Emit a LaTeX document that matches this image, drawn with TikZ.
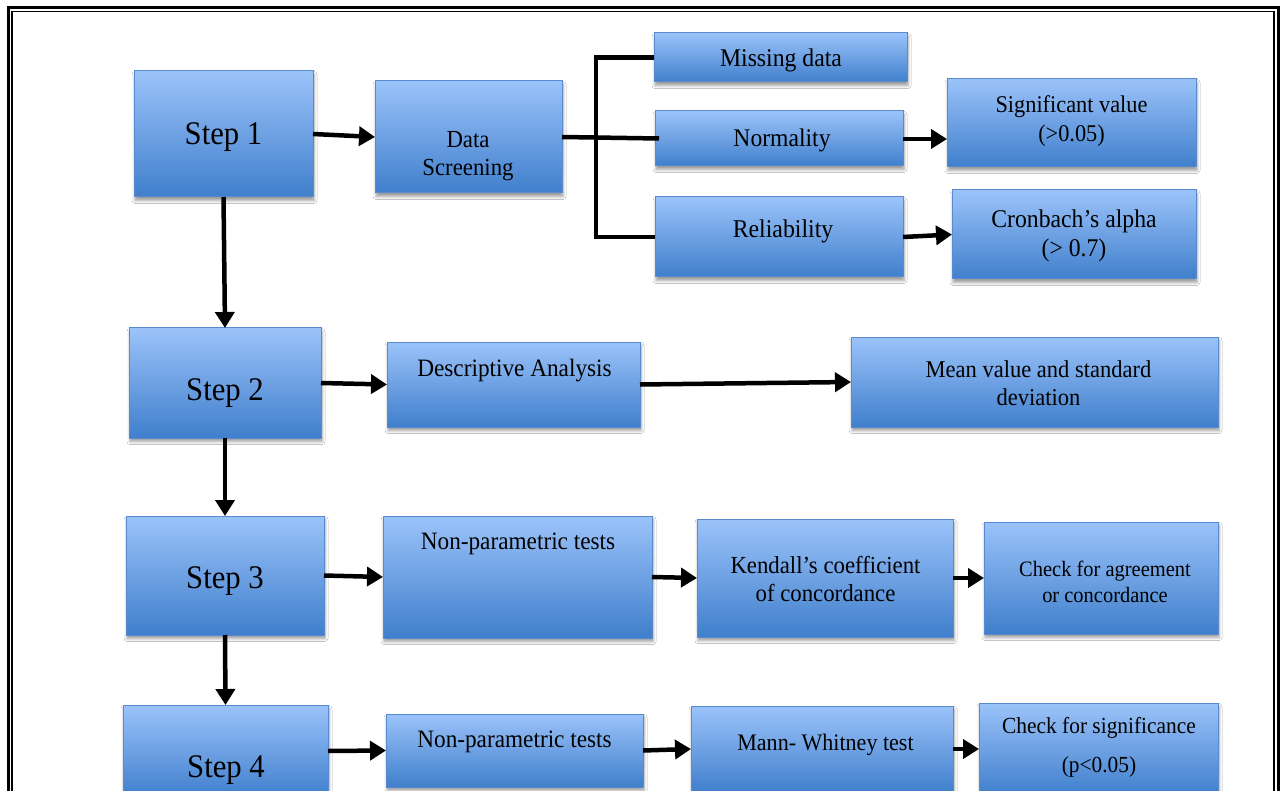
\documentclass[tikz,border=0pt]{standalone}
\usepackage{fontspec}
\setmainfont{Liberation Serif}[FakeStretch=0.93]
\usetikzlibrary{arrows.meta,shadows.blur}

\definecolor{boxtop}{RGB}{155,195,250}
\definecolor{boxbot}{RGB}{64,127,204}
\definecolor{boxedge}{RGB}{88,138,208}

\newcommand\fsz[2]{\fontsize{#1}{#2}\selectfont}

\tikzset{
  flow/.style={draw=boxedge, line width=1pt, top color=boxtop, bottom color=boxbot,
    inner sep=0pt, outer sep=0pt,
    blur shadow={shadow xshift=1pt, shadow yshift=-3.5pt, shadow blur radius=3pt, shadow opacity=40}},
  % anchor=base sits on the last line of a multi-line label
  lbl/.style={inner sep=0pt, align=center, text=black, anchor=base},
  conn/.style={line width=4.5pt, draw=black},
  arr/.style={conn, -{Triangle[length=16pt,width=19pt]}},
}

% box from corner (x1,y1) to (x2,y2), y measured downwards
\newcommand\flowbox[5]{%
  \node[flow, minimum width=#4-#2, minimum height=#5-#3] (#1) at ({(#2+#4)/2},{(#3+#5)/2}) {};}

\begin{document}
\begin{tikzpicture}[x=1pt,y=-1pt]
\clip (0,0) rectangle (1284,791);
\fill[white] (0,0) rectangle (1284,791);

% double page frame
\draw[line width=3pt] (8.5,900) -- (8.5,8) -- (1278.5,8) -- (1278.5,900);
\draw[line width=1.2pt] (12,900) -- (12,11.5) -- (1274,11.5) -- (1274,900);

% boxes
\flowbox{s1}{134}{71}{313}{197}
\flowbox{ds}{375}{81}{562}{193}
\flowbox{miss}{654}{33}{907}{82}
\flowbox{norm}{655}{111}{903}{166}
\flowbox{rel}{655}{197}{903}{277}
\flowbox{sig}{947}{79}{1196}{167}
\flowbox{cron}{952}{190}{1196}{279}

\flowbox{s2}{129}{328}{321}{438}
\flowbox{da}{387}{342}{640}{427}
\flowbox{mean}{851}{337}{1218}{427}

\flowbox{s3}{126}{516}{324}{635}
\flowbox{np3}{383}{516}{652}{638}
\flowbox{ken}{697}{519}{953}{637}
\flowbox{agr}{984}{522}{1218}{634}

\flowbox{s4}{123}{705}{328}{797}
\flowbox{np4}{386}{714}{643}{787}
\flowbox{mw}{691}{706}{953}{792}
\flowbox{sgn}{979}{703}{1218}{795}

% labels
\node[lbl, font=\fsz{33}{38}] (t-s1) at (223.5,145) {Step 1};
\node[lbl, font=\fsz{24.5}{28}] (t-ds) at (468,176) {Data\\Screening};
\node[lbl, font=\fsz{25.5}{29}] (t-miss) at (781,67) {Missing data};
\node[lbl, font=\fsz{25.4}{29}] (t-norm) at (782,147) {Normality};
\node[lbl, font=\fsz{25.6}{29}] (t-rel) at (783,238) {Reliability};
\node[lbl, font=\fsz{24}{29}] (t-sig) at (1071.5,142) {Significant value\\(>0.05)};
\node[lbl, font=\fsz{25.5}{29}] (t-cron) at (1074,257) {Cronbach’s alpha\\(> 0.7)};

\node[lbl, font=\fsz{33}{38}] (t-s2) at (225,400) {Step 2};
\node[lbl, font=\fsz{25}{29}] (t-da) at (514.5,376) {Descriptive Analysis};
\node[lbl, font=\fsz{24.2}{28}] (t-mean) at (1038.5,405) {Mean value and standard\\deviation};

\node[lbl, font=\fsz{33}{38}] (t-s3) at (225,588) {Step 3};
\node[lbl, font=\fsz{25}{29}] (t-np3) at (518,549) {Non-parametric tests};
\node[lbl, font=\fsz{24.5}{28}] (t-ken) at (825.5,601) {Kendall’s coefficient\\of concordance};
\node[lbl, font=\fsz{22}{26}] (t-agr) at (1105,602) {Check for agreement\\or concordance};

\node[lbl, font=\fsz{33}{38}] (t-s4) at (226,777) {Step 4};
\node[lbl, font=\fsz{25}{29}] (t-np4) at (514.5,747) {Non-parametric tests};
\node[lbl, font=\fsz{23.7}{28}] (t-mw) at (825.5,750) {Mann- Whitney test};
\node[lbl, font=\fsz{23}{39}] (t-sgn) at (1099,772) {Check for significance\\(p<0.05)};

% bracket joining Data Screening to its three checks
\coordinate (br) at (596,0);
\draw[conn] (ds.east) -- ([xshift=4pt]norm.west);
\draw[conn] (miss.west) -| (br |- rel.west) -- (rel.west);

% connectors
\draw[arr] (s1.east) -- (ds.west);
\draw[arr] (norm.east |- 0,139) -- (sig.west |- 0,139);
\draw[arr] (rel.east) -- (cron.west);

\draw[arr] (s1.south) -- (s2.north);
\draw[arr] (s2.east) -- (da.west);
\draw[arr] (da.east) -- (mean.west);

\draw[arr] (s2.south) -- (s3.north);
\draw[arr] (s3.east) -- (np3.west);
\draw[arr] (np3.east) -- (ken.west);
\draw[arr] (ken.east) -- (agr.west);

\draw[arr] (s3.south) -- (s4.north);
\draw[arr] (s4.east) -- (np4.west);
\draw[arr] (np4.east) -- (mw.west);
\draw[arr] (mw.east) -- (sgn.west);
\end{tikzpicture}
\end{document}
